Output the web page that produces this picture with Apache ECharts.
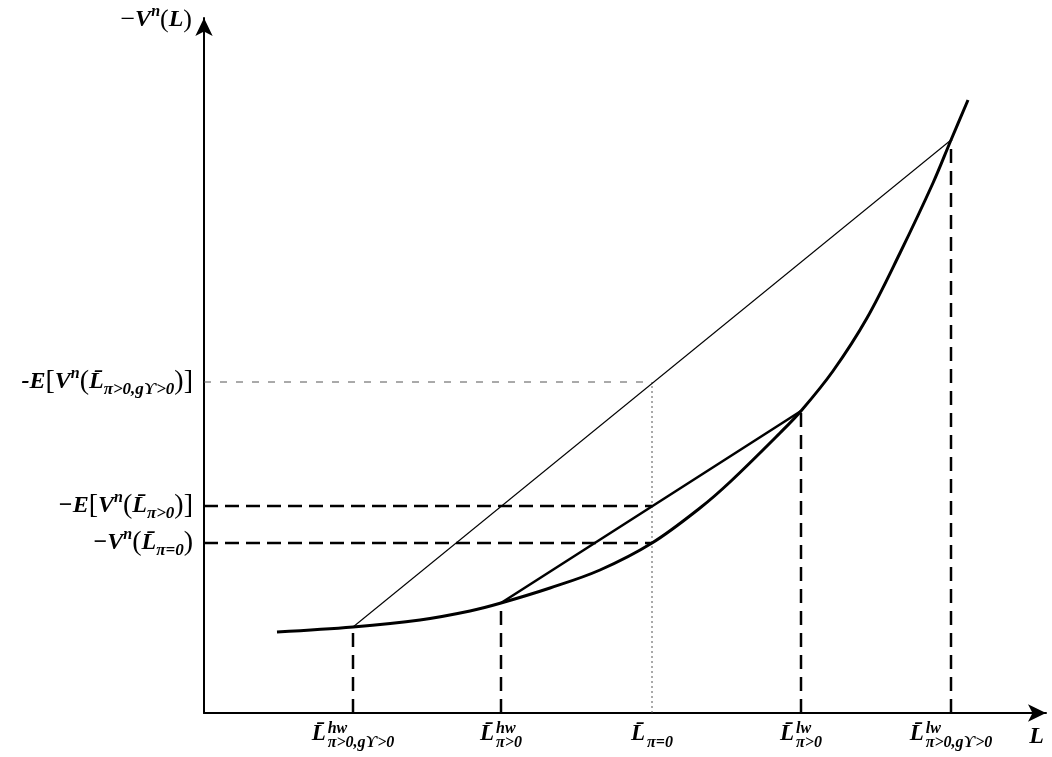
<!DOCTYPE html>
<html>
<head>
<meta charset="utf-8">
<script src="https://cdn.jsdelivr.net/npm/echarts@6/dist/echarts.min.js"></script>
<style>html,body{margin:0;padding:0;background:#fff}#c{width:1052px;height:757px}</style>
</head>
<body>
<div id="c"></div>
<script>
// ---- data (axis units) ----
const curve = [[73,81],[149,86],[216,93],[266,102],[297,110],[346,125],[396,143],[448,170],[496,205],[526,231],[576,280],[597,302],[629,342],[663,395],[696,460],[729,530],[747,573],[764,613]];
const chordOuter = [[149,86],[747,573]];
const chordInner = [[297,110],[597,302]];
const xTickValues = [149, 297, 448, 597, 747];
const xTickTop = [86, 110, 331, 302, 573];
const xTickSup = ['hw', 'hw', '', 'lw', 'lw'];
const xTickSub = ['π>0,gϒ>0', 'π>0', 'π=0', 'π>0', 'π>0,gϒ>0'];
const yTickValues = [331, 207, 170];
const yTickLead = ['-E', '−E', '−'];
const yTickOpen = ['[', '[', ''];
const yTickSub = ['π>0,gϒ>0', 'π>0', 'π=0'];
const yTickClose = [')]', ')]', ')'];
const yGuideEnd = [448, 448, 448];

const F = "'Liberation Serif','DejaVu Serif',serif";
const base = {fontFamily: F, color: '#000'};
const bi = Object.assign({}, base, {fontStyle: 'italic', fontWeight: 'bold'});

function yLabel(v) {
  const i = yTickValues.indexOf(v);
  if (i < 0) return '';
  return '{m|' + yTickLead[i] + '}' + (yTickOpen[i] ? '{b|' + yTickOpen[i] + '}' : '') +
    '{m|V}{sup|n}{b|(}{m|L̄}{sub|' + yTickSub[i] + '}{b|' + yTickClose[i] + '}';
}
function xLabel(v) {
  const i = xTickValues.indexOf(v);
  if (i < 0) return '';
  const line1 = '{xl|L̄}' + (xTickSup[i] ? '{xsup|' + xTickSup[i] + '}' : '');
  const line2 = '{xs| }{xsub|' + xTickSub[i] + '}';
  return line1 + '\n' + line2;
}

const series = [];
const black = '#000';
function seg(data, width, type, color) {
  series.push({type: 'line', data: data, symbol: 'none', silent: true, animation: false,
    lineStyle: {color: color || black, width: width, type: type || 'solid', cap: 'butt'}});
}
// guides
xTickValues.forEach((x, i) => {
  if (i === 2) seg([[x, 0], [x, xTickTop[i]]], 1, [2, 3], '#555');
  else seg([[x, 0], [x, xTickTop[i]]], 2.5, [14, 8]);
});
yTickValues.forEach((y, i) => {
  if (i === 0) seg([[0, y], [yGuideEnd[i], y]], 1, [7, 9], '#555');
  else seg([[0, y], [yGuideEnd[i], y]], 2.5, [14, 7]);
});
seg(chordOuter, 1.1);
seg(chordInner, 2.5);
series.push({type: 'line', data: curve, symbol: 'none', smooth: 0.35, silent: true, animation: false,
  lineStyle: {color: black, width: 3}});

const chart = echarts.init(document.getElementById('c'), null, {renderer: 'canvas'});
chart.setOption({
  animation: false,
  backgroundColor: '#fff',
  grid: {left: 204, right: 6, top: 18, bottom: 44, containLabel: false, outerBoundsMode: 'none'},
  xAxis: {
    type: 'value', min: 0, max: 842,
    splitLine: {show: false}, axisTick: {show: false},
    axisLine: {lineStyle: {color: black, width: 2}, symbol: ['none', 'arrow'], symbolSize: [13, 18]},
    name: 'L', nameLocation: 'end', nameGap: -2,
    nameTextStyle: Object.assign({}, bi, {fontSize: 24, align: 'right', verticalAlign: 'top', padding: [12, 0, 0, 0]}),
    axisLabel: {
      customValues: xTickValues, formatter: xLabel, margin: 14, align: 'center', verticalAlign: 'top',
      rich: {
        xl: Object.assign({}, bi, {fontSize: 23, width: 16, lineHeight: 14, align: 'left'}),
        xsup: Object.assign({}, bi, {fontSize: 16, height: 3, lineHeight: 3, verticalAlign: 'top', align: 'left'}),
        xs: Object.assign({}, base, {fontSize: 12, width: 16, height: 3, lineHeight: 3, align: 'left'}),
        xsub: Object.assign({}, bi, {fontSize: 16, height: 3, lineHeight: 3, verticalAlign: 'top', align: 'left'})
      }
    }
  },
  yAxis: {
    type: 'value', min: 0, max: 695,
    splitLine: {show: false}, axisTick: {show: false},
    axisLine: {lineStyle: {color: black, width: 2}, symbol: ['none', 'arrow'], symbolSize: [13, 18]},
    name: '{b|−}{m|V}{sup|n}{b|(}{m|L}{b|)}', nameLocation: 'end', nameGap: -2,
    nameTextStyle: {align: 'right', verticalAlign: 'middle', padding: [0, 12, 0, 0],
      rich: {
        m: Object.assign({}, bi, {fontSize: 24, lineHeight: 32, verticalAlign: 'middle'}),
        b: Object.assign({}, base, {fontSize: 26, lineHeight: 32, verticalAlign: 'middle'}),
        sup: Object.assign({}, bi, {fontSize: 16, lineHeight: 22, verticalAlign: 'top'})
      }},
    axisLabel: {
      customValues: yTickValues, formatter: yLabel, margin: 11,
      rich: {
        m: Object.assign({}, bi, {fontSize: 24, lineHeight: 32, verticalAlign: 'middle'}),
        b: Object.assign({}, base, {fontSize: 28, lineHeight: 32, verticalAlign: 'middle'}),
        sup: Object.assign({}, bi, {fontSize: 16, lineHeight: 22, verticalAlign: 'top'}),
        sub: Object.assign({}, bi, {fontSize: 17, lineHeight: 17, verticalAlign: 'bottom'})
      }
    }
  },
  series: series
});
</script>
</body>
</html>
